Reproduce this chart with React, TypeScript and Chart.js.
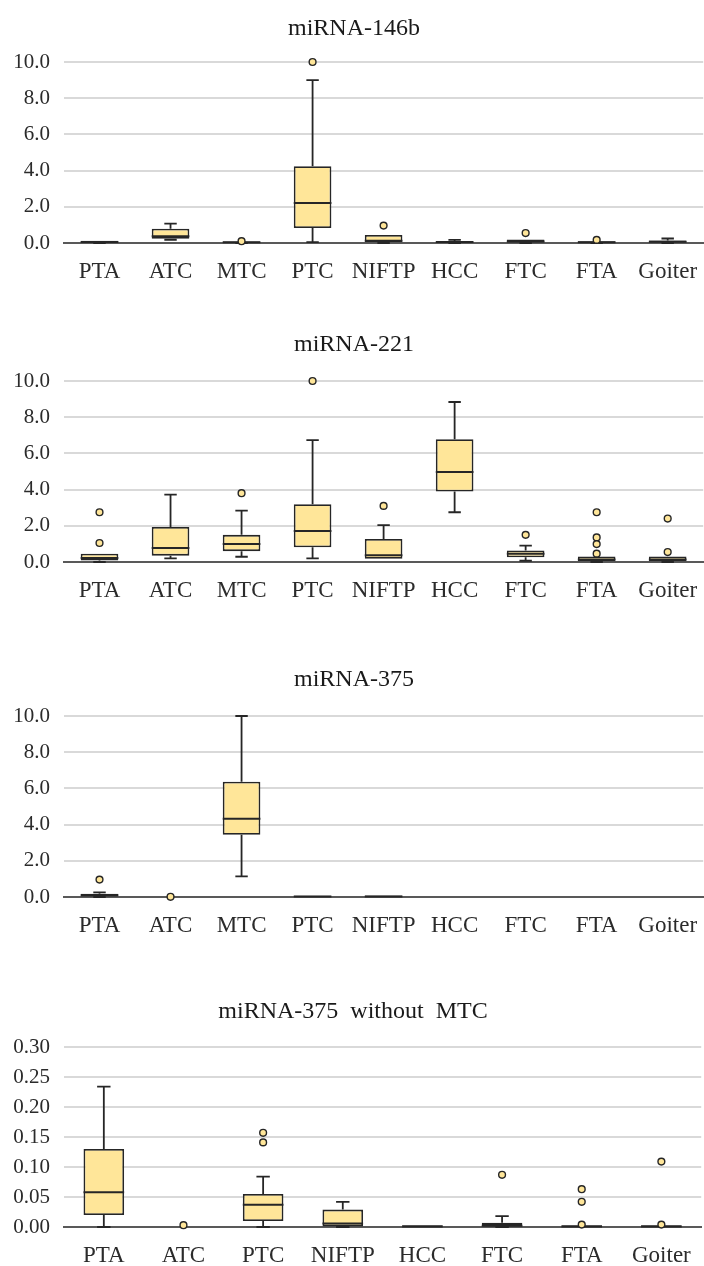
import React, { useEffect, useRef } from 'react';
import { Chart, registerables } from 'chart.js';

Chart.register(...registerables);

// ---------- categories ----------
const CATS_ALL = ['PTA', 'ATC', 'MTC', 'PTC', 'NIFTP', 'HCC', 'FTC', 'FTA', 'Goiter'];
const CATS_NO_MTC = ['PTA', 'ATC', 'PTC', 'NIFTP', 'HCC', 'FTC', 'FTA', 'Goiter'];

// ---------- miRNA-146b ----------
const M146_MIN = [0, 0.18, 0, 0.05, 0, 0, 0, 0, 0];
const M146_Q1 = [0.01, 0.24, 0.01, 0.83, 0.04, 0.02, 0.03, 0.01, 0.03];
const M146_MED = [0.05, 0.37, 0.04, 2.21, 0.12, 0.05, 0.08, 0.04, 0.07];
const M146_Q3 = [0.12, 0.79, 0.08, 4.24, 0.44, 0.1, 0.2, 0.1, 0.14];
const M146_MAX = [0.12, 1.07, 0.08, 9.0, 0.44, 0.17, 0.2, 0.1, 0.25];
const M146_OUT = [[], [], [0.1], [10.0], [0.96], [], [0.55], [0.17], []];

// ---------- miRNA-221 ----------
const M221_MIN = [0, 0.2, 0.29, 0.2, 0.18, 2.75, 0.07, 0, 0];
const M221_Q1 = [0.08, 0.35, 0.6, 0.81, 0.18, 3.89, 0.26, 0.04, 0.04];
const M221_MED = [0.22, 0.77, 0.99, 1.71, 0.37, 4.97, 0.46, 0.14, 0.14];
const M221_Q3 = [0.46, 1.93, 1.5, 3.19, 1.27, 6.78, 0.64, 0.31, 0.31];
const M221_MAX = [0.46, 3.72, 2.84, 6.73, 2.04, 8.84, 0.9, 0.31, 0.31];
const M221_OUT = [[2.75, 1.05], [], [3.8], [10.0], [3.1], [], [1.5], [2.75, 1.36, 0.99, 0.46], [2.4, 0.55]];

// ---------- miRNA-375 ----------
const M375_MIN = [0, null, 1.14, 0, 0, null, null, null, null];
const M375_Q1 = [0.03, null, 3.44, 0, 0, null, null, null, null];
const M375_MED = [0.09, null, 4.33, 0.03, 0.03, null, null, null, null];
const M375_Q3 = [0.18, null, 6.37, 0.07, 0.08, null, null, null, null];
const M375_MAX = [0.26, null, 10.0, 0.07, 0.08, null, null, null, null];
const M375_OUT = [[0.96], [0.01], [], [], [], [], [], [], []];

// ---------- miRNA-375 without MTC ----------
const M375W_MIN = [0, null, 0, 0, 0, 0, 0, 0];
const M375W_Q1 = [0.02, null, 0.01, 0.001, 0, 0.001, 0, 0];
const M375W_MED = [0.058, null, 0.037, 0.006, 0.001, 0.002, 0.001, 0.001];
const M375W_Q3 = [0.13, null, 0.055, 0.029, 0.003, 0.007, 0.003, 0.003];
const M375W_MAX = [0.234, null, 0.084, 0.042, 0.003, 0.018, 0.003, 0.003];
const M375W_OUT = [[], [0.003], [0.157, 0.141], [], [], [0.087], [0.063, 0.042, 0.004], [0.109, 0.004]];

// ---------- panel definitions ----------
type Stat = (number | null)[];
interface PanelDef {
  title: string;
  cats: string[];
  min: Stat; q1: Stat; med: Stat; q3: Stat; max: Stat;
  out: number[][];
  yMax: number; step: number; decimals: number;
  top: number; height: number; width: number;
  titlePadTop: number; titlePadBottom: number;
  xAxisHeight: number; boxPct: number;
}

const PANELS: PanelDef[] = [
  {
    title: 'miRNA-146b', cats: CATS_ALL,
    min: M146_MIN, q1: M146_Q1, med: M146_MED, q3: M146_Q3, max: M146_MAX, out: M146_OUT,
    yMax: 10, step: 2, decimals: 1,
    top: 0, height: 300, width: 708, titlePadTop: 14.8, titlePadBottom: 18.4, xAxisHeight: 57, boxPct: 0.53,
  },
  {
    title: 'miRNA-221', cats: CATS_ALL,
    min: M221_MIN, q1: M221_Q1, med: M221_MED, q3: M221_Q3, max: M221_MAX, out: M221_OUT,
    yMax: 10, step: 2, decimals: 1,
    top: 300, height: 340, width: 708, titlePadTop: 30.8, titlePadBottom: 21.4, xAxisHeight: 78, boxPct: 0.53,
  },
  {
    title: 'miRNA-375', cats: CATS_ALL,
    min: M375_MIN, q1: M375_Q1, med: M375_MED, q3: M375_Q3, max: M375_MAX, out: M375_OUT,
    yMax: 10, step: 2, decimals: 1,
    top: 640, height: 320, width: 708, titlePadTop: 25.8, titlePadBottom: 21.4, xAxisHeight: 63, boxPct: 0.53,
  },
  {
    title: 'miRNA-375  without  MTC', cats: CATS_NO_MTC,
    min: M375W_MIN, q1: M375W_Q1, med: M375W_MED, q3: M375W_Q3, max: M375W_MAX, out: M375W_OUT,
    yMax: 0.3, step: 0.05, decimals: 2,
    top: 960, height: 306, width: 706, titlePadTop: 37.8, titlePadBottom: 20.4, xAxisHeight: 39, boxPct: 0.51,
  },
];

const FONT = "'Liberation Serif', 'Times New Roman', serif";
const BOX_FILL = '#FFE699';
const LINE = '#262626';
const AXIS = '#595959';
const GRID = '#D9D9D9';
const TEXT = '#2b2b2b';

function makeWhiskerPlugin(p: PanelDef) {
  return {
    id: 'whiskers',
    afterDatasetDraw(chart: any, args: any) {
      if (args.index !== 1) return;
      const y = chart.scales.y;
      const ctx = chart.ctx;
      ctx.save();
      ctx.strokeStyle = LINE;
      ctx.lineCap = 'butt';
      args.meta.data.forEach((bar: any, i: number) => {
        const med = p.med[i], q1 = p.q1[i], q3 = p.q3[i], mn = p.min[i], mx = p.max[i];
        if (med == null || q1 == null || q3 == null || mn == null || mx == null) return;
        const x = bar.x;
        const w = bar.width;
        const cap = w * 0.33;
        ctx.lineWidth = 1.8;
        ctx.beginPath();
        if (mx > q3) {
          ctx.moveTo(x, y.getPixelForValue(q3));
          ctx.lineTo(x, y.getPixelForValue(mx));
          ctx.moveTo(x - cap / 2, y.getPixelForValue(mx));
          ctx.lineTo(x + cap / 2, y.getPixelForValue(mx));
        }
        if (mn < q1) {
          ctx.moveTo(x, y.getPixelForValue(q1));
          ctx.lineTo(x, y.getPixelForValue(mn));
          ctx.moveTo(x - cap / 2, y.getPixelForValue(mn));
          ctx.lineTo(x + cap / 2, y.getPixelForValue(mn));
        }
        ctx.stroke();
        ctx.lineWidth = 2;
        ctx.beginPath();
        ctx.moveTo(x - w / 2, y.getPixelForValue(med));
        ctx.lineTo(x + w / 2, y.getPixelForValue(med));
        ctx.stroke();
      });
      ctx.restore();
    },
  };
}

function BoxPanel({ p }: { p: PanelDef }) {
  const ref = useRef<HTMLCanvasElement>(null);
  useEffect(() => {
    if (!ref.current) return;
    const outPts: { x: string; y: number }[] = [];
    p.out.forEach((arr, i) => arr.forEach((v) => outPts.push({ x: p.cats[i], y: v })));
    const boxes = p.cats.map((_, i) => (p.q1[i] == null || p.q3[i] == null ? null : [p.q1[i], p.q3[i]]));
    const chart = new Chart(ref.current, {
      type: 'bar',
      data: {
        labels: p.cats,
        datasets: [
          {
            type: 'line',
            data: outPts as any,
            showLine: false,
            clip: false,
            pointRadius: 3.4,
            pointHoverRadius: 3.4,
            pointBackgroundColor: BOX_FILL,
            pointBorderColor: LINE,
            pointBorderWidth: 1.4,
          } as any,
          {
            type: 'bar',
            data: boxes as any,
            backgroundColor: BOX_FILL,
            borderColor: LINE,
            borderWidth: 1.8,
            borderSkipped: false,
            barPercentage: 1,
            categoryPercentage: p.boxPct,
          } as any,
        ],
      },
      options: {
        responsive: false,
        animation: false,
        events: [],
        layout: { padding: 0 },
        plugins: {
          legend: { display: false },
          tooltip: { enabled: false },
          title: {
            display: true,
            text: p.title,
            color: '#1a1a1a',
            font: { family: FONT, size: 24, weight: 'normal' },
            padding: { top: p.titlePadTop, bottom: p.titlePadBottom },
          },
        },
        scales: {
          x: {
            type: 'category',
            offset: true,
            grid: {
              display: true,
              drawOnChartArea: false,
              drawTicks: true,
              tickLength: 15,
              color: 'rgba(0,0,0,0)',
            },
            border: { display: true, color: AXIS, width: 2 },
            ticks: {
              color: TEXT,
              font: { family: FONT, size: 23 },
              padding: 0,
              maxRotation: 0,
              autoSkip: false,
            },
            afterFit: (s: any) => { s.height = p.xAxisHeight; },
          },
          y: {
            min: 0,
            max: p.yMax,
            grid: {
              color: (c: any) => (c.tick && Math.abs(c.tick.value) < 1e-9 ? AXIS : GRID),
              lineWidth: 2,
              drawTicks: false,
            },
            border: { display: false },
            ticks: {
              stepSize: p.step,
              color: TEXT,
              font: { family: FONT, size: 21 },
              padding: 14,
              callback: (v: any) => Number(v).toFixed(p.decimals),
            },
            afterFit: (s: any) => { s.width = 64; },
          },
        },
      },
      plugins: [makeWhiskerPlugin(p)],
    } as any);
    return () => chart.destroy();
  }, [p]);
  return (
    <canvas
      ref={ref}
      width={p.width}
      height={p.height}
      style={{ position: 'absolute', left: 0, top: p.top, width: p.width, height: p.height, display: 'block' }}
    />
  );
}

export default function App() {
  return (
    <div
      style={{
        position: 'absolute',
        left: 0,
        top: 0,
        width: 704,
        height: 1266,
        overflow: 'hidden',
        background: '#ffffff',
      }}
    >
      {PANELS.map((p) => (
        <BoxPanel key={p.title} p={p} />
      ))}
    </div>
  );
}
